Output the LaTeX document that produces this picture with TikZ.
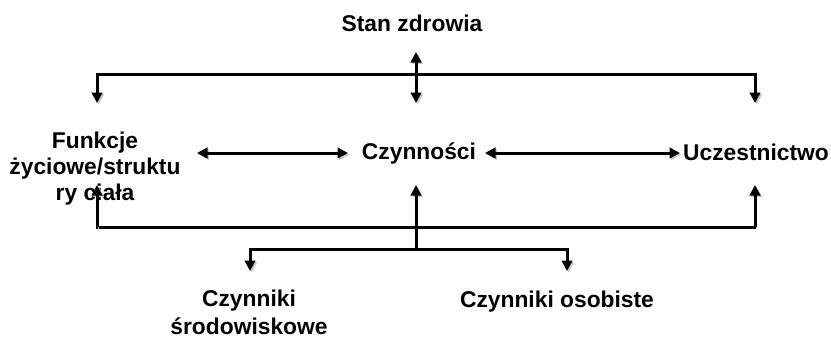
\documentclass[tikz,border=0pt]{standalone}
\usepackage{fontspec}
\setmainfont{Liberation Sans}
\usetikzlibrary{arrows.meta}
\begin{document}
\begin{tikzpicture}[x=1pt,y=-1pt,
  lbl/.style={font=\bfseries\fontsize{22.8}{26}\selectfont, inner sep=0pt, align=center, anchor=base},
  shade/.style={preaction={draw=black!22, transform canvas={shift={(1.6pt,-1.6pt)}}}},
  link/.style={line width=3pt, shade, -{Triangle[length=10.5pt,width=10.5pt]}},
  both/.style={link, {Triangle[length=10.5pt,width=10.5pt]}-{Triangle[length=10.5pt,width=10.5pt]}},
  bar/.style={line width=3pt, line cap=rect, shade}]
  \useasboundingbox (0,0) rectangle (831,340);
  \fill[white] (0,0) rectangle (831,340);

  % labels
  \node[lbl] (stan) at (412,31) {Stan zdrowia};
  \node[lbl, anchor=north] (fun) at (95,132) {Funkcje\\życiowe/struktu\\ry ciała};
  \node[lbl] (czyn) at (419,159) {Czynności};
  \node[lbl] (ucz) at (756,160) {Uczestnictwo};
  \node[lbl, anchor=north, font=\bfseries\fontsize{22.8}{27.5}\selectfont] (env) at (249,290) {Czynniki\\środowiskowe};
  \node[lbl] (pers) at (557,307) {Czynniki osobiste};

  % junction points of the connectors
  \coordinate (tl) at (97,74);
  \coordinate (tr) at (755,74);
  \coordinate (sTop) at (416,52);
  \coordinate (sBot) at (416,103);
  \coordinate (funTop) at (97,103);
  \coordinate (uczTop) at (755,103);
  \coordinate (bl) at (97,227);
  \coordinate (br) at (755,227);
  \coordinate (funBot) at (97,185);
  \coordinate (uczBot) at (755,185);
  \coordinate (czynBot) at (416,185);
  \coordinate (fork) at (416,249);
  \coordinate (envL) at (250,249);
  \coordinate (persR) at (567,249);
  \coordinate (envTip) at (250,271);
  \coordinate (persTip) at (567,271);
  \coordinate (funR) at (197,153);
  \coordinate (czynL) at (348,153);
  \coordinate (czynR) at (485,153);
  \coordinate (uczL) at (680,153);

  % health condition branches to all three components
  \draw[bar] (tl) -- (tr);
  \draw[link] (tl) -- (funTop);
  \draw[link] (tr) -- (uczTop);
  \draw[both] (sTop) -- (sBot);

  % links between the components
  \draw[both] (funR) -- (czynL);
  \draw[both] (czynR) -- (uczL);

  % contextual factors feed back to the components
  \draw[bar] (bl) -- (br);
  \draw[link] (bl) -- (funBot);
  \draw[link] (br) -- (uczBot);
  \draw[link] (fork) -- (czynBot);
  \draw[bar] (envL) -- (persR);
  \draw[link] (envL) -- (envTip);
  \draw[link] (persR) -- (persTip);
\end{tikzpicture}
\end{document}
